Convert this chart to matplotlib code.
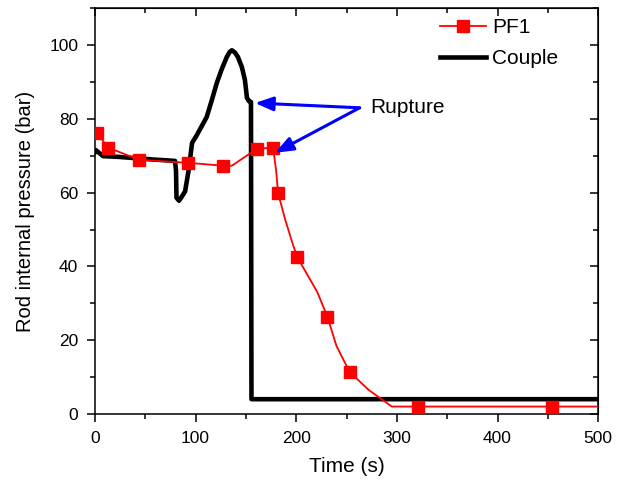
import numpy as np
import matplotlib
matplotlib.use("Agg")
import matplotlib.pyplot as plt
from matplotlib.ticker import MultipleLocator

# PF1 (line points; markers at the measured ones)
pf1_t = [2, 13, 44, 92, 127, 136, 161, 177, 180, 182, 189, 196, 201, 221, 231, 240, 253, 272, 295, 321, 454, 500]
pf1_p = [76.2, 72.2, 68.9, 68.1, 67.3, 67.3, 71.9, 72.2, 66.0, 59.8, 52.7, 46.5, 42.5, 33.0, 26.3, 18.4, 11.4, 6.5, 2.0, 2.0, 2.0, 2.0]
pf1_marks = [0, 1, 2, 3, 4, 6, 7, 9, 12, 14, 16, 19, 20]

# thermocouple trace
cpl_t = [0, 1, 8, 23, 57, 79.5, 80.5, 81, 83.5, 86, 89.5, 93, 96.5, 101, 106, 111, 116, 121, 126, 131, 134, 136, 139, 142, 146, 149, 151, 153, 155, 155.5, 500]
cpl_p = [71, 71.5, 69.9, 69.7, 69.0, 68.6, 66.0, 58.6, 57.8, 58.8, 60.3, 66.0, 73.5, 75.5, 78.0, 80.5, 85.0, 89.7, 93.5, 96.8, 98.2, 98.6, 98.0, 96.8, 94.0, 90.5, 85.7, 84.8, 84.6, 4.0, 4.0]

fig = plt.figure(figsize=(6.25, 4.83), dpi=100)
plt.rcParams.update({'font.family': 'Liberation Sans', 'font.size': 12})
ax = fig.add_axes([0.152, 0.143, 0.805, 0.840])

ax.plot(pf1_t, pf1_p, color='r', lw=1.3, marker='s', ms=8, markevery=pf1_marks,
        label="PF1", zorder=3)
ax.plot(cpl_t, cpl_p, color='k', lw=3.3, label="Couple", zorder=2, solid_joinstyle='round')

arr = dict(arrowstyle='-|>,head_length=0.9,head_width=0.35', color='b', lw=2.2,
           shrinkA=0, shrinkB=0)
ax.annotate("", xy=(159, 84.3), xytext=(263, 83.0), arrowprops=arr)
ax.annotate("", xy=(179, 70.8), xytext=(263, 83.0), arrowprops=arr)
ax.text(274, 83.0, "Rupture", fontsize=15, va='center', ha='left')

ax.set_xlim(0, 500)
ax.set_ylim(0, 110)
ax.xaxis.set_major_locator(MultipleLocator(100))
ax.xaxis.set_minor_locator(MultipleLocator(50))
ax.yaxis.set_major_locator(MultipleLocator(20))
ax.yaxis.set_minor_locator(MultipleLocator(10))
ax.tick_params(which='both', direction='out', labelsize=12.5, width=1.1, pad=6)
ax.tick_params(which='major', length=6)
ax.tick_params(which='minor', length=3.5)

ax2 = ax.secondary_xaxis('top')
ax2.xaxis.set_major_locator(MultipleLocator(100))
ax2.xaxis.set_minor_locator(MultipleLocator(50))
ax2.tick_params(which='both', direction='in', labeltop=False, width=1.1)
ax2.tick_params(which='major', length=6)
ax2.tick_params(which='minor', length=3.5)
ay2 = ax.secondary_yaxis('right')
ay2.yaxis.set_major_locator(MultipleLocator(20))
ay2.yaxis.set_minor_locator(MultipleLocator(10))
ay2.tick_params(which='both', direction='in', labelright=False, width=1.1)
ay2.tick_params(which='major', length=6)
ay2.tick_params(which='minor', length=3.5)
for s in ax.spines.values():
    s.set_linewidth(1.1)

ax.set_xlabel("Time (s)", fontsize=15, labelpad=8)
ax.set_ylabel("Rod internal pressure (bar)", fontsize=14.5, labelpad=10)
ax.legend(loc='upper left', bbox_to_anchor=(0.686, 0.975), frameon=False, fontsize=15,
          handlelength=2.2, handletextpad=0.3, borderaxespad=0, borderpad=0,
          labelspacing=0.55)

plt.savefig("out.png", dpi=100)
